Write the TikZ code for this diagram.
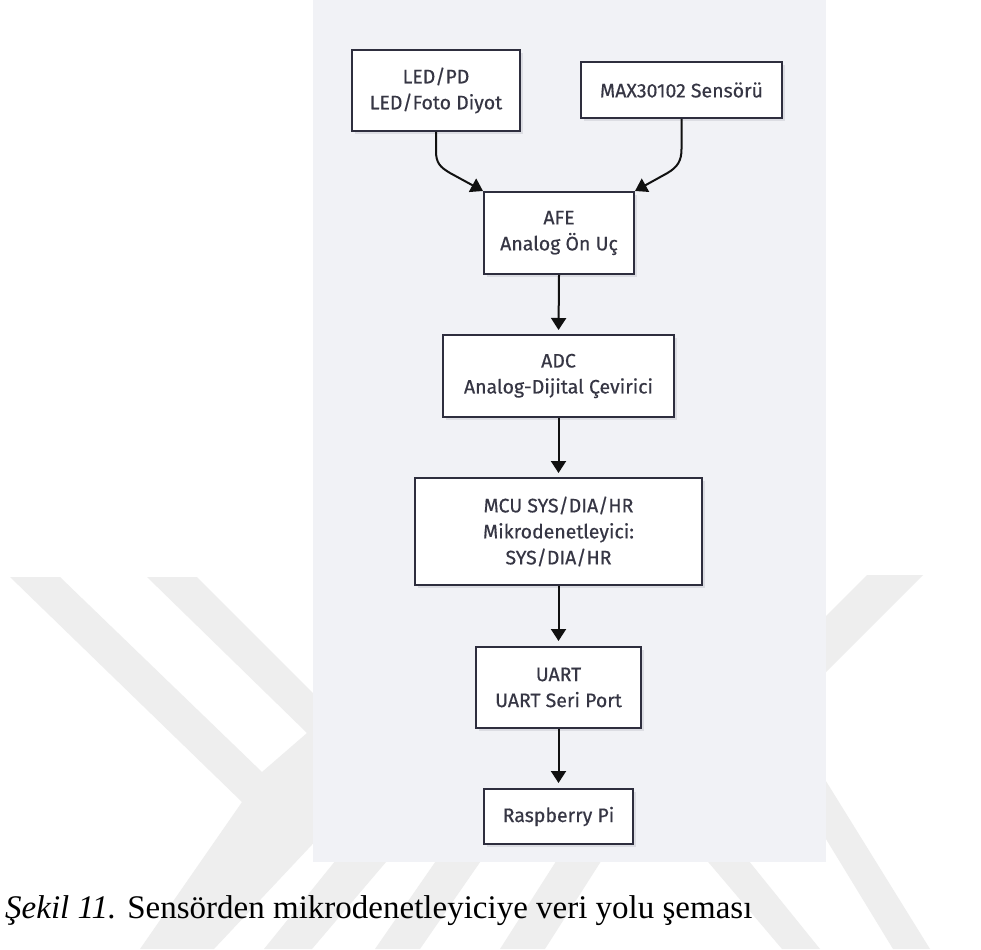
\documentclass[tikz,border=0pt]{standalone}
\usepackage{fontspec}
\setmainfont{Liberation Serif}
\newfontfamily\boxfont[FakeBold=0.5]{Fira Sans}
\usetikzlibrary{arrows.meta,shadows}

\definecolor{panelbg}{HTML}{F1F2F6}
\definecolor{wmark}{HTML}{EEEEEE}
\definecolor{edgecol}{HTML}{2E2E3E}
\definecolor{txtcol}{HTML}{363644}
\definecolor{shadecol}{HTML}{DCDDE3}
\definecolor{arrcol}{HTML}{111111}

\tikzset{
  blockbox/.style={draw=edgecol, line width=2pt, fill=white,
    font=\boxfont\fontsize{19.5}{26}\selectfont, text=txtcol, align=center,
    inner sep=0pt,
    drop shadow={shadow xshift=3pt, shadow yshift=-3pt, fill=shadecol, opacity=1}},
  flowarrow/.style={draw=arrcol, line width=2pt,
    -{Triangle[length=12pt,width=15pt]}},
  wmshape/.style={fill=wmark, draw=none},
}

\begin{document}
\begin{tikzpicture}[x=1pt,y=-1pt]
  \useasboundingbox (0,0) rectangle (981,949);
  \fill[white] (0,0) rectangle (981,949);

  % watermark
  \fill[wmshape] (10,577) -- (60,577) -- (262,772) -- (307,733) -- (147,577)
     -- (197,577) -- (386,766) -- (214,949) -- (140,949) -- (242,802) -- cycle;
  \fill[wmshape] (867,575) -- (923,575) -- (780,718) -- (724,718) -- cycle;
  \fill[wmshape] (790,723) -- (930,949) -- (893,949) -- (790,780) -- cycle;
  \fill[wmshape] (698,850) -- (740,850) -- (820,949) -- (782,949) -- cycle;
  \fill[wmshape] (560,855) -- (605,855) -- (545,949) -- (500,949) -- cycle;
  \fill[wmshape] (440,855) -- (485,855) -- (420,949) -- (375,949) -- cycle;
  \fill[wmshape] (340,855) -- (392,855) -- (312,949) -- (264,949) -- cycle;

  % panel
  \fill[panelbg] (313,0) rectangle (826,862);

  % blocks
  \node[blockbox, minimum width=168pt, minimum height=81pt] (led) at (436,90.5)
    {LED/PD\\LED/Foto Diyot};
  \node[blockbox, minimum width=201pt, minimum height=56pt] (max) at (681.5,90)
    {MAX30102 Sensörü};
  \node[blockbox, minimum width=150pt, minimum height=82pt] (afe) at (559,233)
    {AFE\\Analog Ön Uç};
  \node[blockbox, minimum width=231pt, minimum height=82pt] (adc) at (558.5,376)
    {ADC\\Analog-Dijital Çevirici};
  \node[blockbox, minimum width=287pt, minimum height=107pt] (mcu) at (558.5,531.5)
    {MCU SYS/DIA/HR\\Mikrodenetleyici:\\SYS/DIA/HR};
  \node[blockbox, minimum width=165pt, minimum height=81pt] (uart) at (558.5,687.5)
    {UART\\UART Seri Port};
  \node[blockbox, minimum width=149pt, minimum height=55pt] (rpi) at (558.5,816.5)
    {Raspberry Pi};

  % connectors
  \draw[flowarrow] (led.south) -- ++(0,19) .. controls +(0,12) and +(-10,-6) .. ++(14,22)
     -- (afe.north west);
  \draw[flowarrow] (max.south) -- ++(0,30) .. controls +(0,12) and +(10,-6) .. ++(-14,24)
     -- (afe.north east);
  \draw[flowarrow, shorten >=4pt] (afe.south) -- (adc.north);
  \draw[flowarrow, shorten >=4pt] (adc.south) -- (mcu.north);
  \draw[flowarrow, shorten >=5pt] (mcu.south) -- (uart.north);
  \draw[flowarrow, shorten >=5pt] (uart.south) -- (rpi.north);

  % caption
  \node[anchor=base west, inner sep=0pt, font=\fontsize{33}{38}\selectfont] (caption)
    at (5,918) {\textit{Şekil 11.} Sensörden mikrodenetleyiciye veri yolu şeması};
\end{tikzpicture}
\end{document}
